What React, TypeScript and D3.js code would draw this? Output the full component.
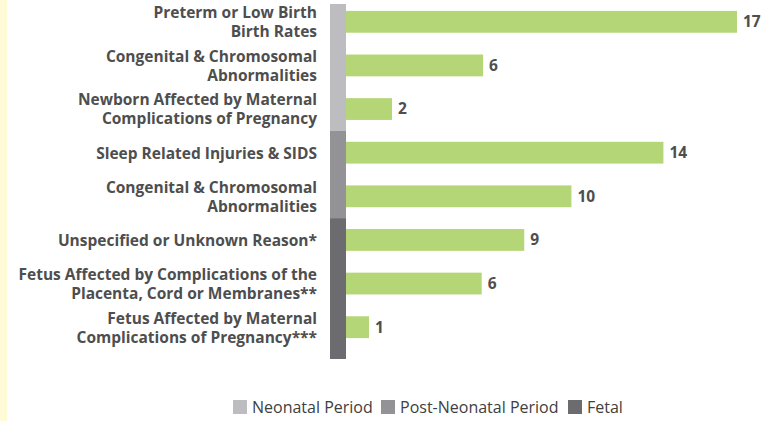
import React, { useEffect, useRef } from 'react';
import * as d3 from 'd3';

// causes, top to bottom
const causes = [
  ['Preterm or Low Birth', 'Birth Rates'],
  ['Congenital & Chromosomal', 'Abnormalities'],
  ['Newborn Affected by Maternal', 'Complications of Pregnancy'],
  ['Sleep Related Injuries & SIDS'],
  ['Congenital & Chromosomal', 'Abnormalities'],
  ['Unspecified or Unknown Reason*'],
  ['Fetus Affected by Complications of the', 'Placenta, Cord or Membranes**'],
  ['Fetus Affected by Maternal', 'Complications of Pregnancy***'],
];
const values = [17, 5.96, 2, 13.8, 9.8, 7.75, 5.9, 1];
const valueLabels = ['17', '6', '2', '14', '10', '9', '6', '1'];
const periods = ['Neonatal', 'Neonatal', 'Neonatal', 'Post', 'Post', 'Fetal', 'Fetal', 'Fetal'];

const periodKeys = ['Neonatal', 'Post', 'Fetal'];
const periodNames = ['Neonatal Period', 'Post-Neonatal Period', 'Fetal'];
const periodColors = ['#bdbdc1', '#939397', '#6c6c70'];

const W = 782;
const H = 421;

function Chart() {
  const ref = useRef<SVGSVGElement>(null);

  useEffect(() => {
    const svg = d3.select(ref.current);
    svg.selectAll('*').remove();

    const font = "'Open Sans', sans-serif";
    const textColor = '#4e4e4e';

    // faint yellow strip on the left edge
    svg.append('rect')
      .attr('x', 0).attr('y', 0)
      .attr('width', 7).attr('height', H)
      .attr('fill', '#fffbd6');

    const idx = d3.range(causes.length);
    const y = d3.scaleBand<number>()
      .domain(idx)
      .range([0, 349])
      .paddingInner(0.5)
      .paddingOuter(0.25);
    const x = d3.scaleLinear().domain([0, 17]).range([346, 737]);
    const step = y.step();

    // period band
    const color = d3.scaleOrdinal<string, string>().domain(periodKeys).range(periodColors);
    periodKeys.forEach((p, pi) => {
      const members = idx.filter((i) => periods[i] === p);
      let top = (y(members[0]) as number) - step * 0.25;
      let bottom = (y(members[members.length - 1]) as number) + y.bandwidth() + step * 0.25;
      if (pi === 0) top += 4;
      if (pi === periodKeys.length - 1) bottom += 10;
      svg.append('rect')
        .attr('x', 330)
        .attr('y', top)
        .attr('width', 16)
        .attr('height', bottom - top)
        .attr('fill', color(p));
    });

    // bars
    svg.append('g')
      .selectAll('rect')
      .data(idx)
      .join('rect')
      .attr('x', x(0))
      .attr('y', (i) => y(i) as number)
      .attr('width', (i) => x(values[i]) - x(0))
      .attr('height', y.bandwidth())
      .attr('fill', '#b4d677');

    // value labels
    svg.append('g')
      .selectAll('text')
      .data(idx)
      .join('text')
      .attr('x', (i) => x(values[i]) + 6)
      .attr('y', (i) => (y(i) as number) + y.bandwidth() / 2)
      .attr('dy', '0.35em')
      .attr('font-family', font)
      .attr('font-weight', 700)
      .attr('font-size', 15.5)
      .attr('fill', textColor)
      .text((i) => valueLabels[i]);

    // category labels
    const lineH = 19;
    const lab = svg.append('g')
      .selectAll('text')
      .data(idx)
      .join('text')
      .attr('text-anchor', 'end')
      .attr('font-family', font)
      .attr('font-weight', 700)
      .attr('font-size', 15.5)
      .attr('fill', textColor);
    lab.each(function (i) {
      const lines = causes[i];
      const cy = (y(i) as number) + y.bandwidth() / 2;
      const start = cy - ((lines.length - 1) * lineH) / 2;
      d3.select(this)
        .selectAll('tspan')
        .data(lines)
        .join('tspan')
        .attr('x', 317)
        .attr('y', (_, k) => start + k * lineH)
        .attr('dy', '0.38em')
        .text((d) => d);
    });

    // legend
    const legendX = [233, 381, 568];
    const leg = svg.append('g')
      .selectAll('g')
      .data(periodKeys)
      .join('g')
      .attr('transform', (_, k) => `translate(${legendX[k]},400)`);
    leg.append('rect')
      .attr('width', 14)
      .attr('height', 14)
      .attr('fill', (d) => color(d));
    leg.append('text')
      .attr('x', 19)
      .attr('y', 7)
      .attr('dy', '0.38em')
      .attr('font-family', font)
      .attr('font-size', 16)
      .attr('fill', '#404040')
      .text((_, k) => periodNames[k]);
  }, []);

  return (
    <svg
      ref={ref}
      width={W}
      height={H}
      style={{ position: 'absolute', left: 0, top: 0, background: '#fff' }}
    />
  );
}

export default function App() {
  return <Chart />;
}
